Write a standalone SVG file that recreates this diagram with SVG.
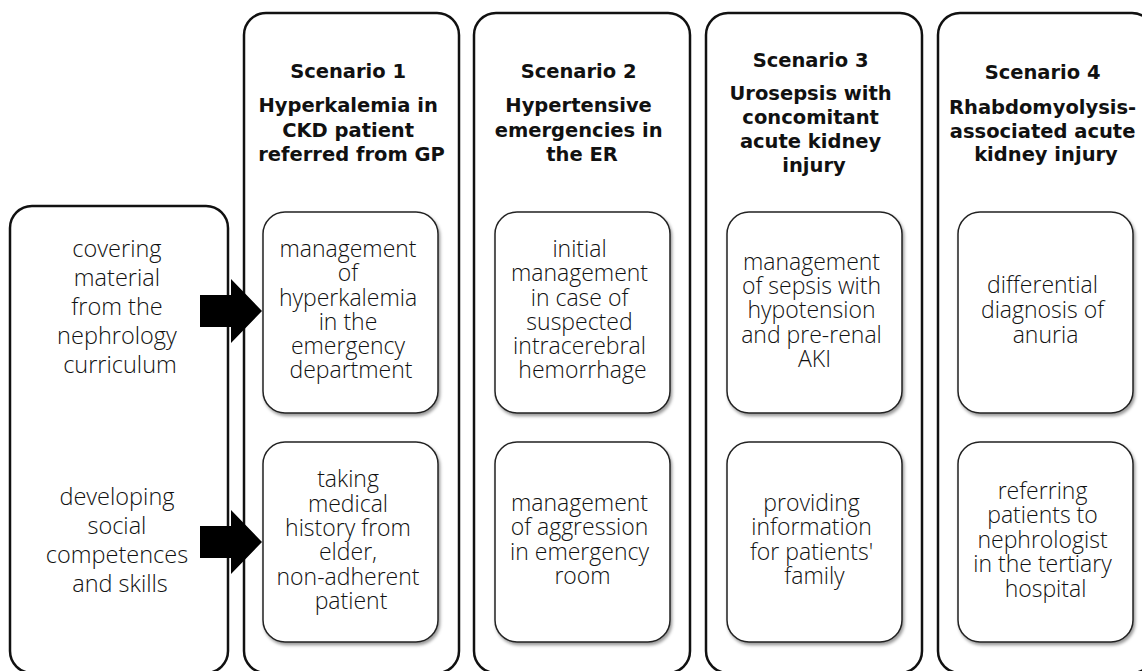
<svg xmlns="http://www.w3.org/2000/svg" width="1142" height="671" viewBox="0 0 1142 671">
  <style>
    .frame { fill: #ffffff; stroke: #111111; stroke-width: 2.5; }
    .card { fill: #ffffff; stroke: #222222; stroke-width: 1.5; filter: url(#cardShadow); }
    .head { font-family: "DejaVu Sans", "Liberation Sans", sans-serif; font-weight: bold; font-size: 19.5px; text-anchor: middle; fill: #111111; }
    .body { font-family: "Open Sans", "DejaVu Sans", sans-serif; font-weight: 300; font-size: 23px; text-anchor: middle; fill: #111111; }
    .side { font-size: 23.5px; }
    .arrow { fill: #000000; }
  </style>
  <defs>
    <filter id="cardShadow" x="-10%" y="-10%" width="130%" height="130%">
      <feDropShadow dx="1.5" dy="2.5" stdDeviation="1.5" flood-color="#000000" flood-opacity="0.4"/>
    </filter>
  </defs>

  <rect width="1142" height="671" fill="#ffffff"/>

  <!-- learning goals panel -->
  <g id="goals">
    <rect class="frame" x="10" y="206" width="218" height="467" rx="22"/>
    <text class="body side">
      <tspan x="120" y="257">covering</tspan>
      <tspan x="120" y="286">material</tspan>
      <tspan x="120" y="315">from the</tspan>
      <tspan x="120" y="344">nephrology</tspan>
      <tspan x="120" y="373">curriculum</tspan>
    </text>
    <text class="body side">
      <tspan x="120" y="505">developing</tspan>
      <tspan x="120" y="534">social</tspan>
      <tspan x="120" y="563">competences</tspan>
      <tspan x="120" y="592">and skills</tspan>
    </text>
  </g>

  <!-- scenario 1 -->
  <g id="scenario1">
    <rect class="frame" x="244" y="13" width="215" height="660" rx="22"/>
    <text class="head">
      <tspan x="351.5" y="78">Scenario 1</tspan>
      <tspan x="351.5" y="112">Hyperkalemia in</tspan>
      <tspan x="351.5" y="137">CKD patient</tspan>
      <tspan x="351.5" y="161">referred from GP</tspan>
    </text>
    <g id="s1-clinical">
      <rect class="card" x="263" y="212" width="175" height="201" rx="22"/>
      <text class="body">
        <tspan x="351" y="257">management</tspan>
        <tspan x="351" y="281">of</tspan>
        <tspan x="351" y="306">hyperkalemia</tspan>
        <tspan x="351" y="330">in the</tspan>
        <tspan x="351" y="354">emergency</tspan>
        <tspan x="351" y="378">department</tspan>
      </text>
    </g>
    <g id="s1-social">
      <rect class="card" x="263" y="442" width="175" height="200" rx="22"/>
      <text class="body">
        <tspan x="351" y="487">taking</tspan>
        <tspan x="351" y="512">medical</tspan>
        <tspan x="351" y="536">history from</tspan>
        <tspan x="351" y="560">elder,</tspan>
        <tspan x="351" y="585">non-adherent</tspan>
        <tspan x="351" y="609">patient</tspan>
      </text>
    </g>
  </g>

  <!-- scenario 2 -->
  <g id="scenario2">
    <rect class="frame" x="474" y="13" width="216" height="660" rx="22"/>
    <text class="head">
      <tspan x="582" y="78">Scenario 2</tspan>
      <tspan x="582" y="112">Hypertensive</tspan>
      <tspan x="582" y="137">emergencies in</tspan>
      <tspan x="582" y="161">the ER</tspan>
    </text>
    <g id="s2-clinical">
      <rect class="card" x="495" y="212" width="175" height="201" rx="22"/>
      <text class="body">
        <tspan x="582.5" y="257">initial</tspan>
        <tspan x="582.5" y="281">management</tspan>
        <tspan x="582.5" y="306">in case of</tspan>
        <tspan x="582.5" y="330">suspected</tspan>
        <tspan x="582.5" y="354">intracerebral</tspan>
        <tspan x="582.5" y="378">hemorrhage</tspan>
      </text>
    </g>
    <g id="s2-social">
      <rect class="card" x="495" y="442" width="175" height="200" rx="22"/>
      <text class="body">
        <tspan x="582.5" y="511">management</tspan>
        <tspan x="582.5" y="535">of aggression</tspan>
        <tspan x="582.5" y="560">in emergency</tspan>
        <tspan x="582.5" y="584">room</tspan>
      </text>
    </g>
  </g>

  <!-- scenario 3 -->
  <g id="scenario3">
    <rect class="frame" x="706" y="13" width="216" height="660" rx="22"/>
    <text class="head">
      <tspan x="814" y="67">Scenario 3</tspan>
      <tspan x="814" y="100">Urosepsis with</tspan>
      <tspan x="814" y="124">concomitant</tspan>
      <tspan x="814" y="148">acute kidney</tspan>
      <tspan x="814" y="172">injury</tspan>
    </text>
    <g id="s3-clinical">
      <rect class="card" x="727" y="212" width="175" height="201" rx="22"/>
      <text class="body">
        <tspan x="814.5" y="270">management</tspan>
        <tspan x="814.5" y="294">of sepsis with</tspan>
        <tspan x="814.5" y="318">hypotension</tspan>
        <tspan x="814.5" y="343">and pre-renal</tspan>
        <tspan x="814.5" y="367">AKI</tspan>
      </text>
    </g>
    <g id="s3-social">
      <rect class="card" x="727" y="442" width="175" height="200" rx="22"/>
      <text class="body">
        <tspan x="814.5" y="511">providing</tspan>
        <tspan x="814.5" y="535">information</tspan>
        <tspan x="814.5" y="560">for patients'</tspan>
        <tspan x="814.5" y="584">family</tspan>
      </text>
    </g>
  </g>

  <!-- scenario 4 -->
  <g id="scenario4">
    <rect class="frame" x="938" y="13" width="216" height="660" rx="22"/>
    <text class="head">
      <tspan x="1046" y="79">Scenario 4</tspan>
      <tspan x="1046" y="114">Rhabdomyolysis-</tspan>
      <tspan x="1046" y="138">associated acute</tspan>
      <tspan x="1046" y="161">kidney injury</tspan>
    </text>
    <g id="s4-clinical">
      <rect class="card" x="958" y="212" width="175" height="201" rx="22"/>
      <text class="body">
        <tspan x="1045.5" y="293">differential</tspan>
        <tspan x="1045.5" y="318">diagnosis of</tspan>
        <tspan x="1045.5" y="343">anuria</tspan>
      </text>
    </g>
    <g id="s4-social">
      <rect class="card" x="958" y="442" width="175" height="200" rx="22"/>
      <text class="body">
        <tspan x="1045.5" y="499">referring</tspan>
        <tspan x="1045.5" y="523">patients to</tspan>
        <tspan x="1045.5" y="548">nephrologist</tspan>
        <tspan x="1045.5" y="572">in the tertiary</tspan>
        <tspan x="1045.5" y="597">hospital</tspan>
      </text>
    </g>
  </g>

  <!-- block arrows from the goals panel into the scenario cards -->
  <g id="connectors">
    <polygon class="arrow" points="200,295 231,295 231,279 262,311 231,343 231,327 200,327"/>
    <polygon class="arrow" points="200,526 231,526 231,510 262,542 231,574 231,558 200,558"/>
  </g>
</svg>
